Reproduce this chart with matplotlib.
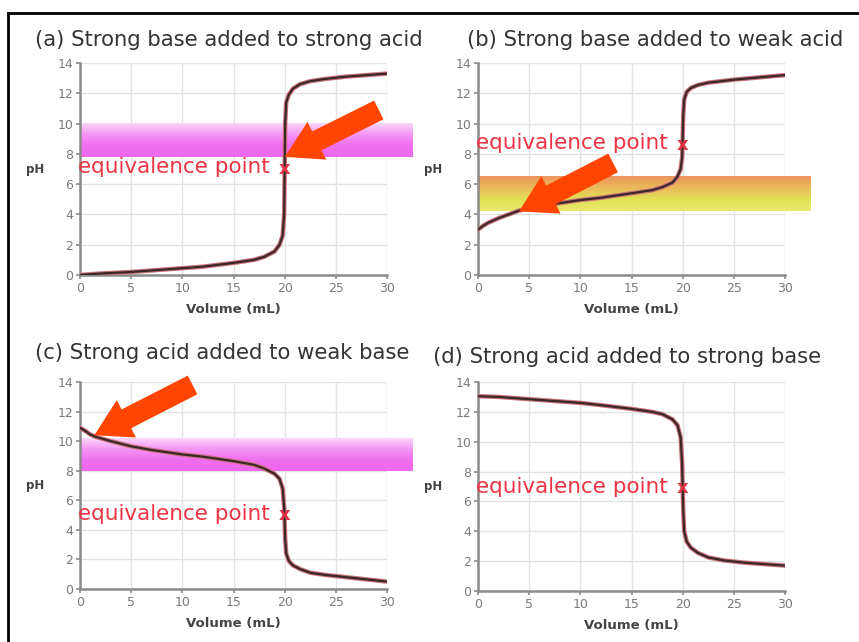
import numpy as np
import matplotlib
matplotlib.use('Agg')
import matplotlib.pyplot as plt
from matplotlib.lines import Line2D
from matplotlib.patches import Polygon
from matplotlib.transforms import IdentityTransform

W, H = 859, 642

# titration curves
vol_a = [0, 2, 5, 8, 10, 12, 15, 17, 18, 19, 19.5, 19.8, 19.95, 20, 20.05, 20.15, 20.4, 20.8, 21.5, 22.5, 24, 26, 28, 30]
ph_a = [0.0, 0.1, 0.2, 0.35, 0.45, 0.55, 0.8, 1.0, 1.2, 1.55, 2.0, 2.6, 4.0, 7.0, 10.0, 11.4, 11.9, 12.3, 12.6, 12.8, 12.95, 13.1, 13.2, 13.3]

vol_b = [0, 0.5, 1, 2, 3, 4, 5, 7, 10, 12, 15, 17, 18, 19, 19.5, 19.8, 19.95, 20, 20.05, 20.15, 20.4, 20.8, 21.5, 22.5, 25, 27.5, 30]
ph_b = [3.0, 3.25, 3.45, 3.75, 4.0, 4.25, 4.4, 4.65, 4.95, 5.1, 5.4, 5.6, 5.8, 6.1, 6.5, 7.0, 7.8, 9.0, 10.5, 11.6, 12.1, 12.35, 12.55, 12.7, 12.9, 13.05, 13.2]

vol_c = [0, 0.5, 1, 1.5, 3, 5, 7, 10, 12, 15, 17, 18, 19, 19.5, 19.8, 19.95, 20, 20.05, 20.15, 20.4, 20.8, 21.5, 22.5, 24, 26, 28, 30]
ph_c = [10.9, 10.7, 10.45, 10.3, 10.0, 9.65, 9.4, 9.1, 8.95, 8.65, 8.4, 8.15, 7.8, 7.45, 6.8, 5.5, 4.5, 3.4, 2.4, 1.9, 1.6, 1.35, 1.1, 0.95, 0.8, 0.65, 0.5]

vol_d = [0, 2, 5, 8, 10, 12, 15, 17, 18, 19, 19.5, 19.8, 19.95, 20, 20.05, 20.15, 20.4, 20.8, 21.5, 22.5, 24, 26, 28, 30]
ph_d = [13.05, 13.0, 12.85, 12.7, 12.6, 12.45, 12.2, 12.0, 11.85, 11.5, 11.1, 10.3, 8.5, 7.0, 5.5, 4.0, 3.3, 2.9, 2.55, 2.25, 2.05, 1.9, 1.8, 1.7]

titles = ['(a) Strong base added to strong acid',
          '(b) Strong base added to weak acid',
          '(c) Strong acid added to weak base',
          '(d) Strong acid added to strong base']

# equivalence label height (pH) per panel
eq_ph = [7.1, 8.7, 5.1, 7.0]

# indicator range bands (low pH, high pH) and colour stops top -> bottom
band_a = (7.8, 10.0)
band_b = (4.2, 6.5)
band_c = (8.0, 10.2)
pink_stops = [(250, 215, 250), (245, 150, 245), (240, 110, 240), (238, 105, 238)]
yellow_stops = [(236, 150, 95), (235, 185, 90), (226, 226, 85), (232, 232, 110)]

# arrows: (tail x, tail y) -> (tip x, tip y)
arrow_a = ((29.2, 10.9), (20.0, 7.8))
arrow_b = ((13.2, 7.4), (4.0, 4.2))
arrow_c = ((11.0, 13.8), (1.4, 10.4))


def px_axes(left, right, top, bottom):
    return [left / W, 1 - bottom / H, (right - left) / W, (bottom - top) / H]


def add_band(ax, lo, hi, stops, x_right=32.5):
    grad = np.array(stops, dtype=float) / 255.0
    n = 60
    t = np.linspace(0, 1, n)
    pos = np.linspace(0, 1, len(stops))
    img = np.zeros((n, 1, 3))
    for k in range(3):
        img[:, 0, k] = np.interp(t, pos, grad[:, k])
    ax.imshow(img, extent=[0, x_right, lo, hi], aspect='auto', origin='upper',
              zorder=1, clip_on=False, interpolation='bilinear')


def add_arrow(ax, arrow, shaft=21, head_w=42, head_l=36):
    # block arrow built in pixel space so the shape is not stretched by the axis scales
    (tx, ty), (hx, hy) = arrow
    p0 = ax.transData.transform((tx, ty))
    p1 = ax.transData.transform((hx, hy))
    d = p1 - p0
    L = np.hypot(*d)
    u = d / L
    n = np.array([-u[1], u[0]])
    base = p1 - u * head_l
    pts = [p0 + n * shaft / 2, base + n * shaft / 2, base + n * head_w / 2, p1,
           base - n * head_w / 2, base - n * shaft / 2, p0 - n * shaft / 2]
    poly = Polygon(pts, closed=True, facecolor='#ff4500', edgecolor='none',
                   transform=IdentityTransform(), zorder=6)
    fig.patches.append(poly)


def draw_panel(ax, vol, ph, eq_y):
    ax.set_xlim(0, 30)
    ax.set_ylim(0, 14)
    ax.set_xticks(range(0, 31, 5))
    ax.set_yticks(range(0, 15, 2))
    ax.set_axisbelow(True)
    ax.grid(color='#e2e2e2', lw=1.0)
    for s in ['top', 'right']:
        ax.spines[s].set_visible(False)
    for s in ['left', 'bottom']:
        ax.spines[s].set_color('#8a8a8a')
        ax.spines[s].set_linewidth(1.8)
    ax.tick_params(colors='#8a8a8a', labelcolor='#7a7a7a', labelsize=9, length=3, width=1.2, pad=2)
    ax.plot(vol, ph, color='#c8707a', lw=3.2, zorder=4, solid_capstyle='round')
    ax.plot(vol, ph, color='#3a2828', lw=1.6, zorder=5, solid_capstyle='round')
    ax.text(-0.2, eq_y, 'equivalence point', color='#ee3344', fontsize=15.5,
            ha='left', va='center', zorder=6)
    ax.text(20, eq_y - 0.1, 'x', color='#dd3344', fontsize=13, fontweight='bold',
            ha='center', va='center', zorder=6)
    ax.set_xlabel('Volume (mL)', fontsize=9.5, fontweight='bold', color='#444444', labelpad=6)
    ax.set_ylabel('pH', fontsize=8.5, fontweight='bold', color='#444444', rotation=0,
                  labelpad=16, va='center')


fig = plt.figure(figsize=(W / 100, H / 100), dpi=100)

ax_a = fig.add_axes(px_axes(80, 387, 63, 275))
ax_b = fig.add_axes(px_axes(478, 785, 63, 275))
ax_c = fig.add_axes(px_axes(80, 387, 382, 589))
ax_d = fig.add_axes(px_axes(478, 785, 382, 591))

draw_panel(ax_a, vol_a, ph_a, eq_ph[0])
draw_panel(ax_b, vol_b, ph_b, eq_ph[1])
draw_panel(ax_c, vol_c, ph_c, eq_ph[2])
draw_panel(ax_d, vol_d, ph_d, eq_ph[3])

add_band(ax_a, band_a[0], band_a[1], pink_stops)
add_band(ax_b, band_b[0], band_b[1], yellow_stops)
add_band(ax_c, band_c[0], band_c[1], pink_stops)
for ax in [ax_a, ax_b, ax_c]:
    ax.set_xlim(0, 30)
    ax.set_ylim(0, 14)

add_arrow(ax_a, arrow_a)
add_arrow(ax_b, arrow_b)
add_arrow(ax_c, arrow_c)

# panel titles
title_pos = [(35, 40), (467, 40), (35, 353), (433, 357)]
for (x, y), t in zip(title_pos, titles):
    fig.text(x / W, 1 - y / H, t, fontsize=15.2, color='#333333', ha='left', va='center')

# frame lines (top and left only)
fig.add_artist(Line2D([8 / W, 1], [1 - 13 / H, 1 - 13 / H], color='black', lw=2))
fig.add_artist(Line2D([8 / W, 8 / W], [0, 1 - 13 / H], color='black', lw=2))

fig.savefig('out.png', dpi=100)
